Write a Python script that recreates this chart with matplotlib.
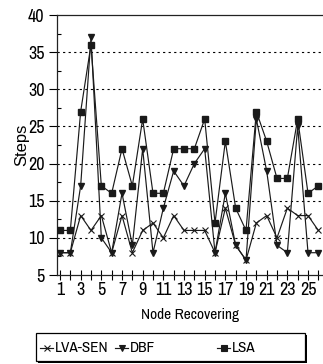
import matplotlib
matplotlib.use("Agg")
import logging
import matplotlib.pyplot as plt
from matplotlib.lines import Line2D
from matplotlib.patches import Rectangle
from matplotlib.ticker import MultipleLocator, FixedLocator

logging.getLogger('matplotlib.font_manager').setLevel(logging.ERROR)

narrow = ['Liberation Sans Narrow', 'Arial Narrow', 'Archivo Narrow', 'Roboto Condensed',
          'PT Sans Narrow', 'Sofia Sans Semi Condensed', 'Liberation Sans', 'DejaVu Sans']
plt.rcParams['font.family'] = narrow

nodes = list(range(1, 27))
lva_sen = [8, 8, 13, 11, 13, 8, 13, 8, 11, 12, 10, 13, 11, 11, 11, 8, 14, 9, 7, 12, 13, 10, 14, 13, 13, 11]
dbf = [8, 8, 17, 37, 10, 8, 16, 9, 22, 8, 14, 19, 17, 20, 22, 8, 16, 9, 7, 26, 19, 9, 8, 25, 8, 8]
lsa = [11, 11, 27, 36, 17, 16, 22, 17, 26, 16, 16, 22, 22, 22, 26, 12, 23, 14, 11, 27, 23, 18, 18, 26, 16, 17]
x_tick_labels = [str(n) for n in range(1, 26, 2)]

W, H = 323, 364
fig = plt.figure(figsize=(W / 100, H / 100), dpi=100)


def px(x, y):
    return x / W, 1 - y / H


ax = fig.add_axes([57 / W, 1 - 275 / H, (W - 57) / W + 0.01, (275 - 15) / H])

lc = '#1a1a1a'
ax.plot(nodes, lva_sen, color=lc, lw=0.85, marker='x', ms=4.5, mew=0.8, zorder=3)
ax.plot(nodes, dbf, color=lc, lw=0.85, marker='v', ms=4.5, zorder=3)
ax.plot(nodes, lsa, color=lc, lw=0.85, marker='s', ms=4.2, zorder=3)

ax.set_xlim(0.71, 26.45 + 0.01 * W / 10.33)
ax.set_ylim(5, 40)

for v in range(10, 40, 5):
    ax.axhline(v, color='black', lw=0.8, ls=(0, (2, 3)), zorder=1)

ax.xaxis.set_major_locator(FixedLocator(list(range(1, 26, 2))))
ax.set_xticklabels(x_tick_labels)
ax.xaxis.set_minor_locator(FixedLocator(list(range(2, 27, 2))))
ax.tick_params(axis='x', which='both', direction='inout', length=7, width=0.8,
               labelsize=13, pad=1.5)
ax.yaxis.set_major_locator(MultipleLocator(5))
ax.yaxis.set_minor_locator(MultipleLocator(2.5))
ax.tick_params(axis='y', which='major', direction='out', length=6, width=0.8,
               labelsize=13, pad=3)
ax.tick_params(axis='y', which='minor', direction='in', length=3, width=0.8)

for s in ['left', 'bottom', 'top']:
    ax.spines[s].set_linewidth(0.9)
    ax.spines[s].set_color('#222222')
ax.spines['right'].set_visible(False)

fig.text(*px(22, 145), 'Steps', fontsize=12, rotation=90, ha='center', va='center',
         family=['Liberation Sans', 'DejaVu Sans'])
fig.text(*px(190, 315), 'Node Recovering', fontsize=11, ha='center', va='center')

# legend box with a drop shadow
x0, y0, x1, y1 = 36, 333, 305, 361
fig.add_artist(Rectangle(px(x0 + 2, y1 + 2), (x1 - x0) / W, (y1 - y0) / H,
                         transform=fig.transFigure, facecolor='black', edgecolor='none'))
fig.add_artist(Rectangle(px(x0, y1), (x1 - x0) / W, (y1 - y0) / H,
                         transform=fig.transFigure, facecolor='white',
                         edgecolor='black', lw=0.9))
entries = [(40, 'x', 'LVA-SEN'), (115, 'v', 'DBF'), (217, 's', 'LSA')]
ly = 347.5
for hx, mk, label in entries:
    fig.add_artist(Line2D([hx / W, (hx + 13) / W], [1 - ly / H] * 2, transform=fig.transFigure,
                          color=lc, lw=0.85))
    fig.add_artist(Line2D([(hx + 6.5) / W], [1 - ly / H], transform=fig.transFigure,
                          color=lc, marker=mk, ms=4, mew=0.8, lw=0))
    fig.text((hx + 15) / W, 1 - ly / H, label, fontsize=11, ha='left', va='center')

fig.savefig('out.png', dpi=100)
